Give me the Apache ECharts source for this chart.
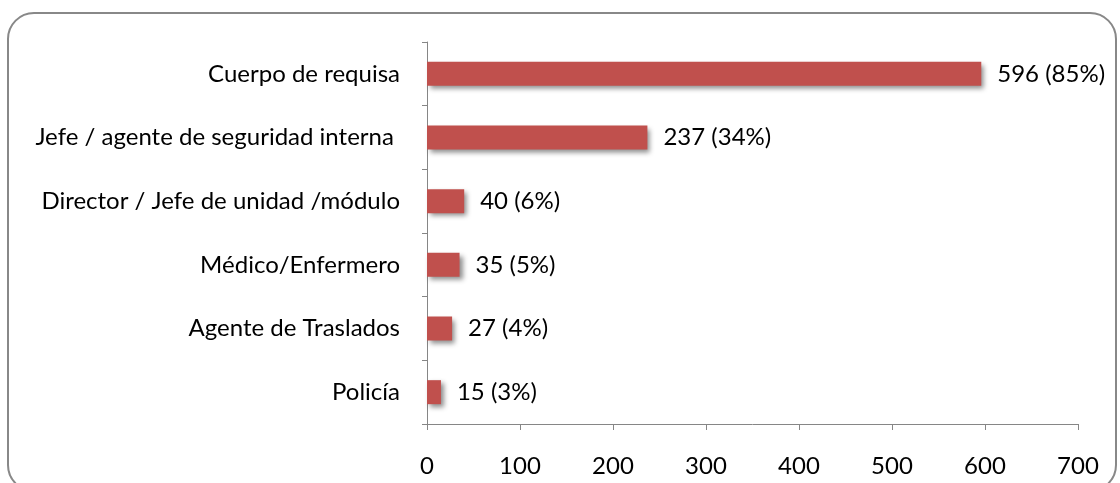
<!DOCTYPE html>
<html>
<head>
<meta charset="utf-8">
<script src="https://cdn.jsdelivr.net/npm/echarts@6/dist/echarts.min.js"></script>
<style>
  html, body { margin: 0; padding: 0; background: #fff; }
  #chart { width: 1120px; height: 483px; }
</style>
</head>
<body>
<div id="chart"></div>
<script>
// categories bottom -> top, as echarts draws category yAxis from bottom
var categories = ['Policía', 'Agente de Traslados', 'Médico/Enfermero', 'Director / Jefe de unidad /módulo', 'Jefe / agente de seguridad interna ', 'Cuerpo de requisa'];
var values = [15, 27, 35, 40, 237, 596];
var percents = [3, 4, 5, 6, 34, 85];
var xTicks = [0, 100, 200, 300, 400, 500, 600, 700];

var font = 'Lato, "Open Sans", sans-serif';
var chart = echarts.init(document.getElementById('chart'));

chart.setOption({
  animation: false,
  graphic: [{
    type: 'rect',
    shape: { x: 8, y: 13, width: 1108, height: 478, r: 26 },
    style: { fill: 'none', stroke: '#888', lineWidth: 2 },
    z: -1
  }],
  grid: { left: 427, right: 42, top: 42, bottom: 59 },
  xAxis: {
    type: 'value',
    min: xTicks[0],
    max: xTicks[xTicks.length - 1],
    interval: 100,
    axisLine: { show: true, lineStyle: { color: '#868686', width: 1 } },
    axisTick: { show: true, length: 6, lineStyle: { color: '#868686' } },
    splitLine: { show: false },
    axisLabel: { color: '#000', fontSize: 24, fontFamily: font, margin: 30 }
  },
  yAxis: {
    type: 'category',
    data: categories,
    axisLine: { show: true, lineStyle: { color: '#868686', width: 1 } },
    axisTick: { show: true, length: 5, lineStyle: { color: '#868686' } },
    axisLabel: { color: '#000', fontSize: 24, fontFamily: font, margin: 27 }
  },
  series: [{
    type: 'bar',
    data: values,
    barWidth: 24,
    itemStyle: {
      color: '#C0504D',
      shadowColor: 'rgba(0,0,0,0.45)',
      shadowBlur: 5,
      shadowOffsetX: 3,
      shadowOffsetY: 3
    },
    label: {
      show: true,
      position: 'right',
      distance: 16,
      color: '#000',
      fontSize: 24,
      fontFamily: font,
      formatter: function (p) {
        return values[p.dataIndex] + ' (' + percents[p.dataIndex] + '%)';
      }
    }
  }]
});
</script>
</body>
</html>
